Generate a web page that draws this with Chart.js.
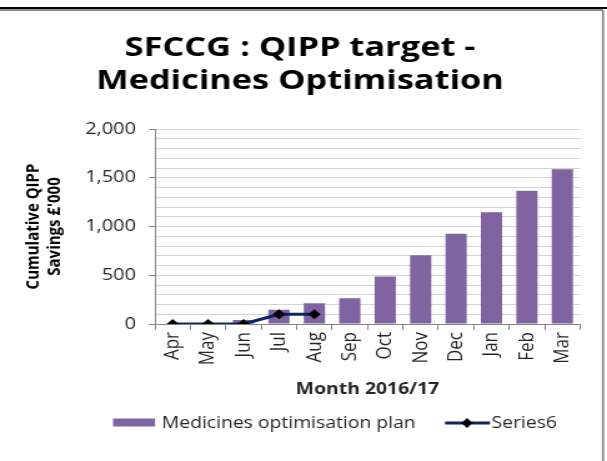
<!DOCTYPE html>
<html>
<head>
<meta charset="utf-8">
<script src="https://cdn.jsdelivr.net/npm/chart.js@4/dist/chart.umd.min.js"></script>
<style>
  html, body { margin: 0; padding: 0; background: #ffffff; overflow: hidden; }
  #wrap { width: 486px; height: 461px; position: relative; transform-origin: 0 0; transform: scaleX(1.249); }
</style>
</head>
<body>
<div id="wrap"><canvas id="c" width="486" height="461"></canvas></div>
<script>
const titleLines = ["SFCCG : QIPP target -", "Medicines Optimisation"];
const months = ["Apr", "May", "Jun", "Jul", "Aug", "Sep", "Oct", "Nov", "Dec", "Jan", "Feb", "Mar"];
const planValues = [0, 0, 40, 145, 212, 265, 487, 706, 925, 1147, 1367, 1586];
const series6Values = [0, 0, 0, 100, 100, null, null, null, null, null, null, null];
const barLabel = "Medicines optimisation plan";
const lineLabel = "Series6";
const yTitle = ["Cumulative QIPP", "Savings £'000"];
const xTitle = "Month 2016/17";

const FONT = "'Open Sans', sans-serif";
const PURPLE = "#8064A2";
const NAVY = "#0B2463";
const TXT = "#262626";

const decor = {
  id: 'decor',
  afterDraw(chart) {
    const ctx = chart.ctx;
    ctx.save();
    // frame
    ctx.strokeStyle = '#000000';
    ctx.lineWidth = 2;
    ctx.beginPath(); ctx.moveTo(0, 8); ctx.lineTo(486, 8); ctx.stroke();
    ctx.strokeStyle = '#8a8a8a';
    ctx.lineWidth = 2;
    ctx.beginPath(); ctx.moveTo(0, 10); ctx.lineTo(482.8, 10); ctx.stroke();
    ctx.lineWidth = 1.7;
    ctx.beginPath(); ctx.moveTo(482.8, 10); ctx.lineTo(482.8, 461); ctx.stroke();
    // title
    ctx.fillStyle = '#000000';
    ctx.font = "bold 27.5px " + FONT;
    ctx.textAlign = 'center';
    ctx.textBaseline = 'alphabetic';
    ctx.fillText(titleLines[0], 240.2, 56);
    ctx.fillText(titleLines[1], 240.2, 89);
    // legend
    ctx.fillStyle = PURPLE;
    ctx.fillRect(90.5, 418.5, 33.6, 8);
    ctx.font = "15.5px " + FONT;
    ctx.fillStyle = TXT;
    ctx.textAlign = 'left';
    ctx.fillText(barLabel, 129.5, 427.5);
    ctx.strokeStyle = NAVY;
    ctx.lineWidth = 3;
    ctx.beginPath(); ctx.moveTo(356.3, 423); ctx.lineTo(392.3, 423); ctx.stroke();
    ctx.fillStyle = '#000000';
    ctx.beginPath();
    ctx.moveTo(373.9, 418); ctx.lineTo(378.4, 423); ctx.lineTo(373.9, 428); ctx.lineTo(369.4, 423); ctx.closePath();
    ctx.fill();
    ctx.fillStyle = TXT;
    ctx.fillText(lineLabel, 393.5, 427.5);
    ctx.restore();
  }
};

new Chart(document.getElementById('c'), {
  data: {
    labels: months,
    datasets: [
      {
        type: 'line',
        label: lineLabel,
        data: series6Values,
        borderColor: NAVY,
        borderWidth: 3,
        pointStyle: 'rectRot',
        pointRadius: 5,
        pointBackgroundColor: '#000000',
        pointBorderColor: '#000000',
        pointBorderWidth: 0,
        spanGaps: false,
        tension: 0,
        order: 0
      },
      {
        type: 'bar',
        label: barLabel,
        data: planValues,
        backgroundColor: PURPLE,
        barPercentage: 0.6,
        categoryPercentage: 1.0,
        order: 1
      }
    ]
  },
  options: {
    responsive: false,
    animation: false,
    layout: { padding: { top: 129, left: 17.6, right: 21.6, bottom: 60 } },
    plugins: {
      legend: { display: false },
      title: { display: false },
      tooltip: { enabled: false }
    },
    scales: {
      x: {
        type: 'category',
        afterFit(scale) { scale.height = 77; },
        grid: {
          offset: true,
          drawOnChartArea: false,
          color: '#868686',
          tickLength: 6
        },
        border: { color: '#868686', width: 1 },
        ticks: {
          maxRotation: 90,
          minRotation: 90,
          autoSkip: false,
          padding: 2,
          color: TXT,
          font: { family: FONT, size: 17 }
        },
        title: {
          display: true,
          text: xTitle,
          color: TXT,
          font: { family: FONT, size: 15.5, weight: 'bold', lineHeight: 1.2 },
          padding: { top: 0, bottom: 2 }
        }
      },
      y: {
        min: 0,
        max: 2000,
        afterFit(scale) { scale.width = 106.5; },
        ticks: {
          stepSize: 100,
          autoSkip: false,
          padding: 10.4,
          color: TXT,
          font: { family: FONT, size: 16 },
          callback: (v) => (v % 500 === 0 ? v.toLocaleString('en-GB') : '')
        },
        grid: {
          color: (c) => (c.tick && c.tick.value === 0 ? 'rgba(0,0,0,0)' : '#d4d4d4'),
          tickColor: (c) => (c.tick && c.tick.value % 500 === 0 ? '#868686' : 'rgba(0,0,0,0)'),
          tickLength: 4.8,
          lineWidth: 1
        },
        border: { color: '#868686', width: 1 },
        title: {
          display: true,
          text: yTitle,
          color: '#000000',
          font: { family: FONT, size: 15, weight: 'bold', lineHeight: 1.17 },
          padding: 0
        }
      }
    }
  },
  plugins: [decor]
});
</script>
</body>
</html>
